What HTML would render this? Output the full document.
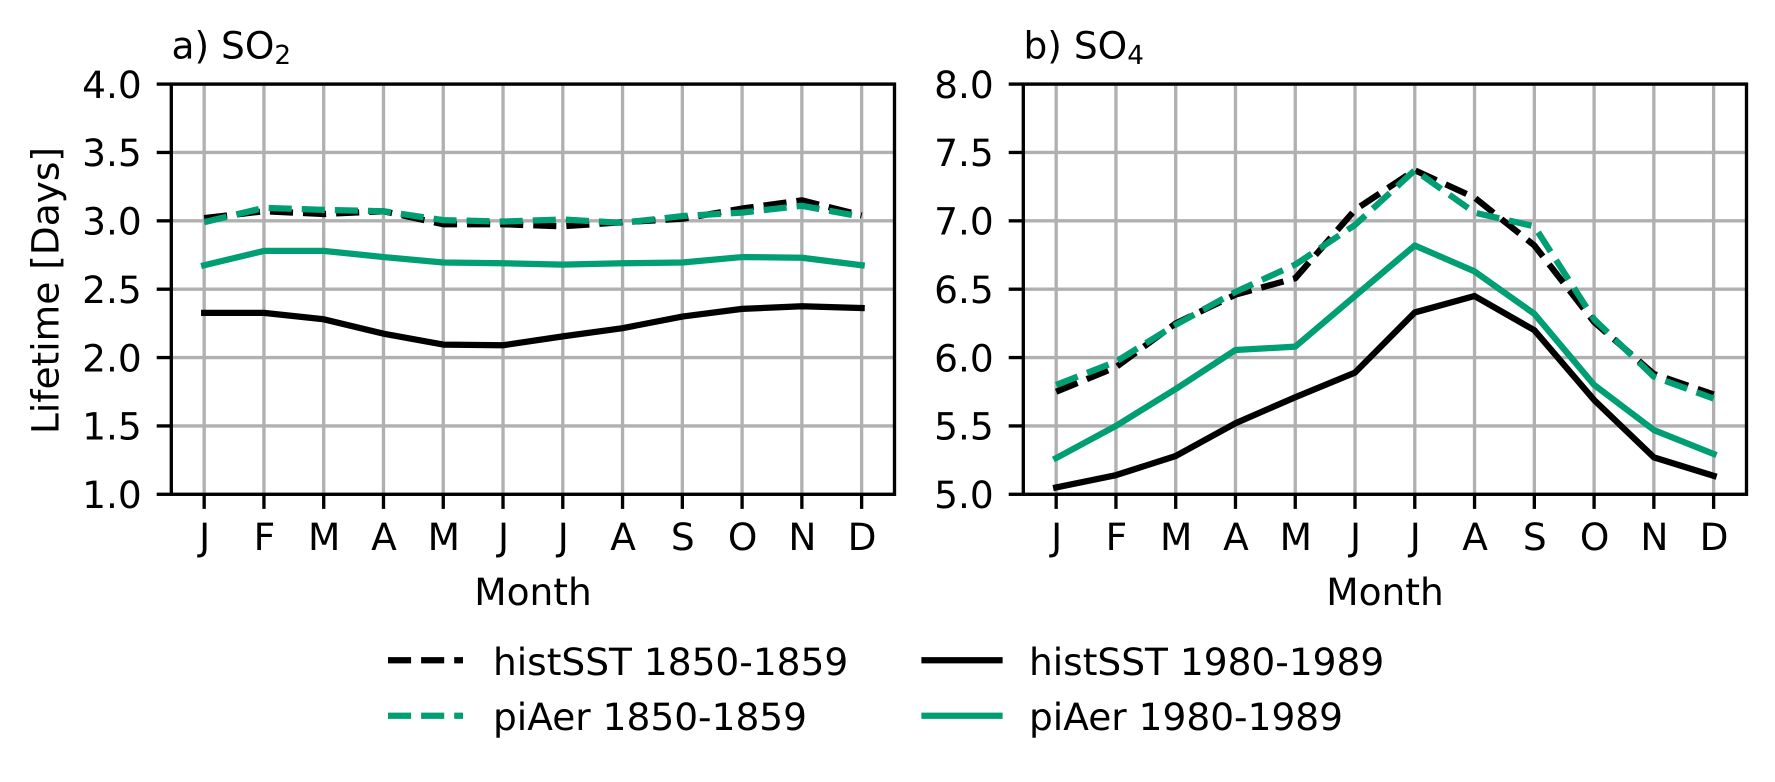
<!DOCTYPE html>
<html lang="en">
<head>
<meta charset="utf-8">
<title>SO2 and SO4 lifetime by month</title>
<style>
html,body{margin:0;padding:0;background:#fff;}
svg{display:block;}
text{font-family:"DejaVu Sans","Liberation Sans",sans-serif;font-size:37.5px;fill:#000;text-rendering:geometricPrecision;}
</style>
</head>
<body>
<svg id="chart" xmlns="http://www.w3.org/2000/svg" width="1775" height="782" viewBox="0 0 1775 782">
  <rect x="0" y="0" width="1775" height="782" fill="#ffffff"/>
  <g id="panel-a"></g>
  <g id="panel-b"></g>
  <text x="171.5" y="58.3">a) SO<tspan font-size="26.25" dy="5.6" style="font-size:26.25px">2</tspan></text>
  <text x="1023.5" y="58.3">b) SO<tspan font-size="26.25" dy="5.6" style="font-size:26.25px">4</tspan></text>
  <text transform="translate(58.5,290.5) rotate(-90)" text-anchor="middle">Lifetime [Days]</text>
  <text x="533" y="605" text-anchor="middle">Month</text>
  <text x="1385" y="605" text-anchor="middle">Month</text>
  <g>
    <g>
      <line x1="388" y1="660.3" x2="463" y2="660.3" stroke="#000000" stroke-width="6.25" stroke-dasharray="23.1 10"/>
      <text x="493" y="675">histSST 1850-1859</text>
    </g>
    <g>
      <line x1="388" y1="715.7" x2="463" y2="715.7" stroke="#009E73" stroke-width="6.25" stroke-dasharray="23.1 10"/>
      <text x="493" y="730">piAer 1850-1859</text>
    </g>
    <g>
      <line x1="924.5" y1="660.3" x2="999.5" y2="660.3" stroke="#000000" stroke-width="6.25" stroke-linecap="square"/>
      <text x="1029" y="675">histSST 1980-1989</text>
    </g>
    <g>
      <line x1="924.5" y1="715.7" x2="999.5" y2="715.7" stroke="#009E73" stroke-width="6.25" stroke-linecap="square"/>
      <text x="1029" y="730">piAer 1980-1989</text>
    </g>
  </g>
</svg>
<script>
const months = ['J','F','M','A','M','J','J','A','S','O','N','D'];

const so2Ticks = [1.0,1.5,2.0,2.5,3.0,3.5,4.0];
const so4Ticks = [5.0,5.5,6.0,6.5,7.0,7.5,8.0];

const so2HistSst1850 = [3.02,3.07,3.05,3.07,2.975,2.975,2.96,2.99,3.015,3.09,3.15,3.04];
const so2PiAer1850   = [2.99,3.095,3.08,3.07,3.005,2.995,3.01,2.985,3.035,3.06,3.11,3.03];
const so2HistSst1980 = [2.327,2.327,2.28,2.175,2.095,2.09,2.155,2.215,2.30,2.356,2.375,2.362];
const so2PiAer1980   = [2.675,2.78,2.78,2.735,2.695,2.69,2.68,2.69,2.695,2.735,2.73,2.675];

const so4HistSst1850 = [5.75,5.93,6.25,6.46,6.58,7.08,7.37,7.17,6.82,6.26,5.88,5.73];
const so4PiAer1850   = [5.80,5.97,6.24,6.48,6.68,6.97,7.37,7.06,6.96,6.28,5.86,5.70];
const so4HistSst1980 = [5.05,5.14,5.28,5.52,5.71,5.89,6.33,6.45,6.20,5.69,5.27,5.135];
const so4PiAer1980   = [5.265,5.50,5.77,6.055,6.08,6.45,6.82,6.63,6.32,5.80,5.47,5.295];

const SVG_NS = 'http://www.w3.org/2000/svg';
const AXIS_TOP = 84.1;
const AXIS_BOTTOM = 494.3;
const AXIS_WIDTH = 723.2;
const TICK_LEN = 14.6;
const GRID_W = 3.33;
const LINE_W = 6.25;
const BLACK = '#000000';
const GREEN = '#009E73';

function xScale(i, left) {
  const n = months.length - 1;
  const inner = AXIS_WIDTH / 1.1;
  return left + AXIS_WIDTH * (0.05 / 1.1) + inner * i / n;
}
function yScale(v, ticks) {
  const lo = ticks[0];
  const hi = ticks[ticks.length - 1];
  return AXIS_BOTTOM - (v - lo) / (hi - lo) * (AXIS_BOTTOM - AXIS_TOP);
}
function svgEl(tag, attrs) {
  const el = document.createElementNS(SVG_NS, tag);
  for (const k in attrs) el.setAttribute(k, attrs[k]);
  return el;
}

function drawPanel(group, left, ticks, seriesList) {
  const right = left + AXIS_WIDTH;

  months.forEach(function (m, i) {
    const x = xScale(i, left);
    const grid = svgEl('line', {x1:x, x2:x, y1:AXIS_TOP, y2:AXIS_BOTTOM, stroke:'#b0b0b0', 'stroke-width':GRID_W});
    
    
    group.appendChild(grid);
  });
  ticks.forEach(function (t) {
    const y = yScale(t, ticks);
    const grid = svgEl('line', {x1:left, x2:right, y1:y, y2:y, stroke:'#b0b0b0', 'stroke-width':GRID_W});
    
    
    group.appendChild(grid);
  });

  seriesList.forEach(function (s) {
    const pts = s.values.map(function (v, i) {
      return xScale(i, left).toFixed(2) + ',' + yScale(v, ticks).toFixed(2);
    }).join(' ');
    const line = svgEl('polyline', {
      points: pts, fill: 'none', stroke: s.color, 'stroke-width': LINE_W,
      'stroke-linejoin': 'round',
      'stroke-linecap': s.dashed ? 'butt' : 'square'
    });
    if (s.dashed) line.setAttribute('stroke-dasharray', '23.1 10');
    
    
    group.appendChild(line);
  });

  months.forEach(function (m, i) {
    const x = xScale(i, left);
    const tick = svgEl('line', {x1:x, x2:x, y1:AXIS_BOTTOM, y2:AXIS_BOTTOM + TICK_LEN, stroke:'#000', 'stroke-width':GRID_W});
    
    
    group.appendChild(tick);
    const label = svgEl('text', {x:x + 0.5, y:550, 'text-anchor':'middle'});
    label.textContent = m;
    
    
    group.appendChild(label);
  });
  ticks.forEach(function (t) {
    const y = yScale(t, ticks);
    const tick = svgEl('line', {x1:left - TICK_LEN, x2:left, y1:y, y2:y, stroke:'#000', 'stroke-width':GRID_W});
    
    
    group.appendChild(tick);
    const label = svgEl('text', {x:left - 29.5, y:y + 13.7, 'text-anchor':'end'});
    label.textContent = t.toFixed(1);
    
    
    group.appendChild(label);
  });

  const frame = svgEl('rect', {x:left, y:AXIS_TOP, width:AXIS_WIDTH, height:AXIS_BOTTOM - AXIS_TOP, fill:'none', stroke:'#000', 'stroke-width':GRID_W, 'stroke-linejoin':'miter'});
  
  
  group.appendChild(frame);
}

drawPanel(document.getElementById('panel-a'), 171.3, so2Ticks, [
  {name:'line-so2-histsst-1850', values:so2HistSst1850, color:BLACK, dashed:true},
  {name:'line-so2-piaer-1850', values:so2PiAer1850, color:GREEN, dashed:true},
  {name:'line-so2-histsst-1980', values:so2HistSst1980, color:BLACK, dashed:false},
  {name:'line-so2-piaer-1980', values:so2PiAer1980, color:GREEN, dashed:false}
]);
drawPanel(document.getElementById('panel-b'), 1023.3, so4Ticks, [
  {name:'line-so4-histsst-1850', values:so4HistSst1850, color:BLACK, dashed:true},
  {name:'line-so4-piaer-1850', values:so4PiAer1850, color:GREEN, dashed:true},
  {name:'line-so4-histsst-1980', values:so4HistSst1980, color:BLACK, dashed:false},
  {name:'line-so4-piaer-1980', values:so4PiAer1980, color:GREEN, dashed:false}
]);
</script>
</body>
</html>
